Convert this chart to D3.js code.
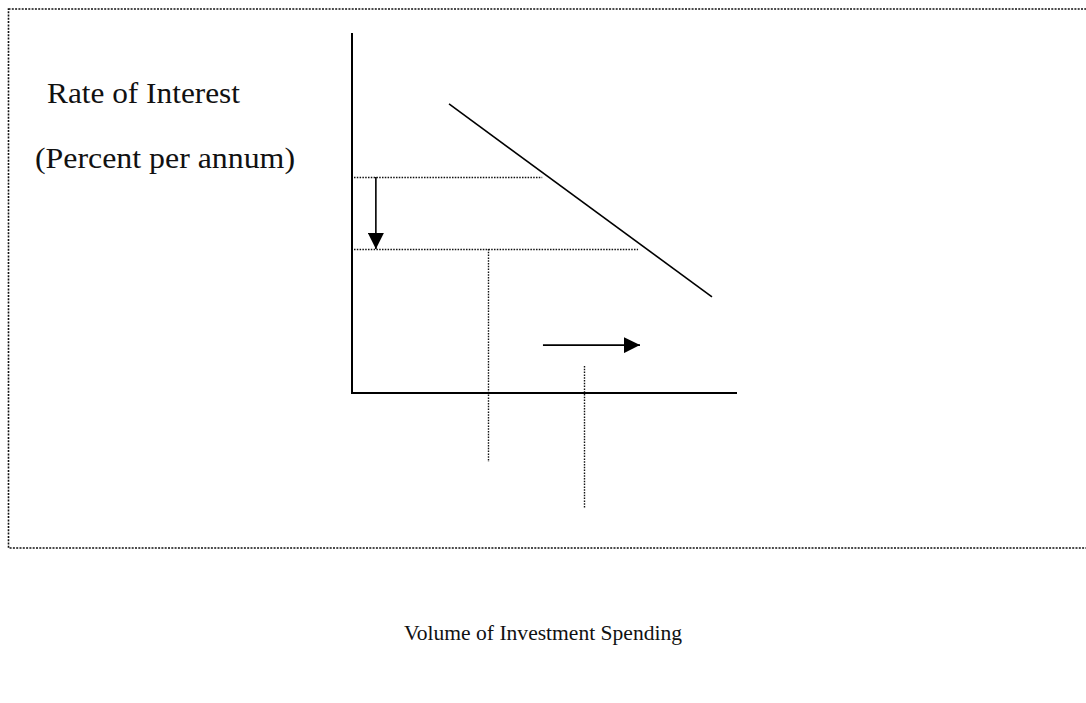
<!DOCTYPE html>
<html>
<head>
<meta charset="utf-8">
<script src="https://cdn.jsdelivr.net/npm/d3@7"></script>
<style>
  body { margin: 0; background: #fff; }
  svg text { font-family: "Liberation Serif", "DejaVu Serif", serif; fill: #111; }
</style>
</head>
<body>
<svg id="chart" width="1086" height="703"></svg>
<script>
  // investment demand curve (volume, rate), in chart units
  var demandX = [25.2, 93.5];
  var demandY = [80.3, 26.7];

  // interest rates before / after the fall, and where the guide lines stop
  var rates = [60, 40];
  var rateGuideEnd = [49.4, 74.3];

  // investment volumes before / after, with the extent of their guide lines
  var volumes = [35.3, 60.3];
  var volumeTop = [40, 7.5];
  var volumeBottom = [-19.2, -31.9];

  // the two shift arrows
  var rateArrowX = 6.2;
  var volArrowX = [49.6, 74.8];
  var volArrowY = 13.3;

  var yLabels = ["Rate of Interest", "(Percent per annum)"];
  var xLabel = "Volume of Investment Spending";

  var svg = d3.select( "#chart" );

  var x = d3.scaleLinear().domain( [ 0 , 100 ] ).range( [ 352 , 737 ] );
  var y = d3.scaleLinear().domain( [ 0 , 100 ] ).range( [ 393 , 33 ] );

  svg.append( "defs" ).append( "marker" )
     .attr( "id" , "head" )
     .attr( "viewBox" , "0 0 10 10" )
     .attr( "refX" , 10 ).attr( "refY" , 5 )
     .attr( "markerWidth" , 16 ).attr( "markerHeight" , 16 )
     .attr( "markerUnits" , "userSpaceOnUse" )
     .attr( "orient" , "auto" )
     .append( "path" ).attr( "d" , "M0,0L10,5L0,10Z" ).attr( "fill" , "#000" );

  // dotted frame, running off the right edge
  svg.append( "rect" )
     .attr( "x" , 8.5 ).attr( "y" , 9 )
     .attr( "width" , 1090 ).attr( "height" , 539 )
     .attr( "fill" , "none" )
     .attr( "stroke" , "#111" ).attr( "stroke-width" , 1.6 )
     .attr( "stroke-dasharray" , "2,1.3" );

  var dotted = function( x1 , y1 , x2 , y2 ) {
    svg.append( "line" )
       .attr( "x1" , x1 ).attr( "y1" , y1 ).attr( "x2" , x2 ).attr( "y2" , y2 )
       .attr( "stroke" , "#111" ).attr( "stroke-width" , 1.4 )
       .attr( "stroke-dasharray" , "1.5,1.3" );
  };

  rates.forEach( function( r , i ) {
    dotted( x( 0 ) + 2 , Math.round( y( r ) ) + 0.5 , x( rateGuideEnd[i] ) , Math.round( y( r ) ) + 0.5 );
  } );

  volumes.forEach( function( v , i ) {
    dotted( Math.round( x( v ) ) + 0.5 , y( volumeTop[i] ) , Math.round( x( v ) ) + 0.5 , y( volumeBottom[i] ) );
  } );

  // axes
  svg.append( "line" )
     .attr( "x1" , x( 0 ) ).attr( "y1" , y( 100 ) ).attr( "x2" , x( 0 ) ).attr( "y2" , y( 0 ) + 1 )
     .attr( "stroke" , "#000" ).attr( "stroke-width" , 2 );
  svg.append( "line" )
     .attr( "x1" , x( 0 ) - 1 ).attr( "y1" , y( 0 ) ).attr( "x2" , x( 100 ) ).attr( "y2" , y( 0 ) )
     .attr( "stroke" , "#000" ).attr( "stroke-width" , 2 );

  // demand curve
  svg.append( "path" )
     .datum( d3.zip( demandX , demandY ) )
     .attr( "d" , d3.line().x( function( d ) { return x( d[0] ); } ).y( function( d ) { return y( d[1] ); } ) )
     .attr( "fill" , "none" ).attr( "stroke" , "#000" ).attr( "stroke-width" , 1.6 );

  // arrows
  svg.append( "line" )
     .attr( "x1" , x( rateArrowX ) ).attr( "y1" , y( rates[0] ) )
     .attr( "x2" , x( rateArrowX ) ).attr( "y2" , y( rates[1] ) )
     .attr( "stroke" , "#000" ).attr( "stroke-width" , 1.6 )
     .attr( "marker-end" , "url(#head)" );
  svg.append( "line" )
     .attr( "x1" , x( volArrowX[0] ) ).attr( "y1" , y( volArrowY ) )
     .attr( "x2" , x( volArrowX[1] ) ).attr( "y2" , y( volArrowY ) )
     .attr( "stroke" , "#000" ).attr( "stroke-width" , 1.6 )
     .attr( "marker-end" , "url(#head)" );

  // labels
  svg.append( "text" ).attr( "x" , 47 ).attr( "y" , 103 )
     .attr( "font-size" , 29 ).attr( "textLength" , 193 ).attr( "lengthAdjust" , "spacingAndGlyphs" )
     .text( yLabels[0] );
  svg.append( "text" ).attr( "x" , 35 ).attr( "y" , 168 )
     .attr( "font-size" , 29 ).attr( "textLength" , 260 ).attr( "lengthAdjust" , "spacingAndGlyphs" )
     .text( yLabels[1] );
  svg.append( "text" ).attr( "x" , 404 ).attr( "y" , 640 )
     .attr( "font-size" , 22 ).attr( "textLength" , 278 ).attr( "lengthAdjust" , "spacingAndGlyphs" )
     .text( xLabel );
</script>
</body>
</html>
